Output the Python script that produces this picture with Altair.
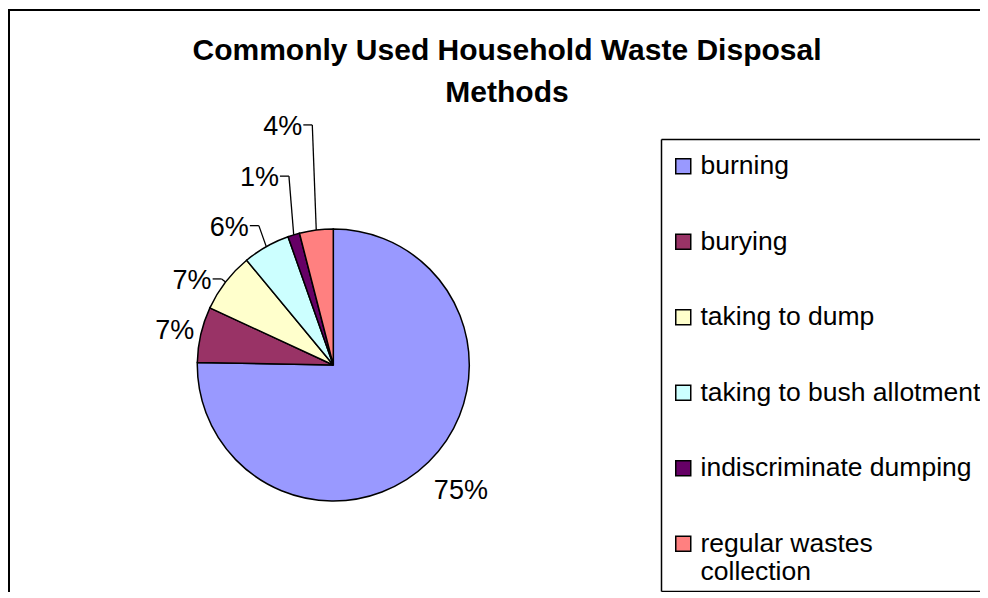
import altair as alt
import pandas as pd

# ---- data ----
methods = [
    "burning",
    "burying",
    "taking to dump",
    "taking to bush allotment",
    "indiscriminate dumping",
    "regular wastes collection",
]
shares = [75.3, 6.6, 7.1, 5.6, 1.4, 4.0]
colors = ["#9999FF", "#993366", "#FFFFCC", "#CCFFFF", "#660066", "#FF8080"]
title_lines = ["Commonly Used Household Waste Disposal", "Methods"]

# ---- label placement (like hand-dragged spreadsheet labels) ----
label_radius = [179, 162, 141, 158, 194, 241]
label_shift_deg = [-1.0, -1.0, 0.0, 1.4, 3.7, 2.2]
label_leader = [0, 0, 1, 1, 1, 1]

W, H = 972, 584
CX, CY, R = 325.3, 357, 136
FONT = "Liberation Sans"

df = pd.DataFrame({
    "method": methods,
    "share": shares,
    "order": list(range(len(methods))),
    "lr": label_radius,
    "shift": label_shift_deg,
    "leader": label_leader,
})

one = pd.DataFrame({"k": [0]})

color = alt.Color(
    "method:N",
    scale=alt.Scale(domain=methods, range=colors),
    legend=alt.Legend(
        title=None,
        orient="none",
        legendX=662,
        legendY=145,
        direction="vertical",
        symbolType="square",
        symbolSize=225,
        symbolStrokeColor="black",
        symbolStrokeWidth=1.5,
        symbolOpacity=1,
        labelFont=FONT,
        labelFontSize=26.5,
        labelColor="black",
        labelOffset=4,
        rowPadding=48.5,
        padding=0,
        labelLimit=400,
        labelExpr="datum.label == 'regular wastes collection' ? ['regular wastes', 'collection'] : datum.label",
    ),
)

pie = alt.Chart(df).mark_arc(radius=R, stroke="black", strokeWidth=1.5).encode(
    theta=alt.Theta("share:Q", stack=True),
    order=alt.Order("order:Q"),
    color=color,
    x=alt.value(CX),
    y=alt.value(CY),
)

geo = (
    alt.Chart(df)
    .transform_joinaggregate(total="sum(share)")
    .transform_window(cum="sum(share)", sort=[alt.SortField("order")], frame=[None, 0])
    .transform_calculate(a="2*PI*(datum.cum - datum.share/2)/datum.total")
    .transform_calculate(b="datum.a + datum.shift*PI/180")
    .transform_calculate(ex=f"{CX} + {R}*sin(datum.a)")
    .transform_calculate(ey=f"{CY} - {R}*cos(datum.a)")
    .transform_calculate(lx=f"{CX} + datum.lr*sin(datum.b)")
    .transform_calculate(ly=f"{CY} - datum.lr*cos(datum.b)")
    .transform_calculate(hx="datum.lx - 9")
    .transform_calculate(pct="format(datum.share/datum.total, '.0%')")
)

radial = geo.transform_filter("datum.leader == 1").mark_rule(color="black", strokeWidth=1.3).encode(
    x=alt.X("ex:Q", scale=None), y=alt.Y("ey:Q", scale=None), x2="lx:Q", y2="ly:Q"
)
horiz = geo.transform_filter("datum.leader == 1").mark_rule(color="black", strokeWidth=1.3).encode(
    x=alt.X("hx:Q", scale=None), x2="lx:Q", y=alt.Y("ly:Q", scale=None)
)
txt_center = geo.transform_filter("datum.leader == 0").mark_text(
    font=FONT, fontSize=27, color="black", align="center", baseline="middle"
).encode(x=alt.X("lx:Q", scale=None), y=alt.Y("ly:Q", scale=None), text="pct:N")
txt_leader = geo.transform_filter("datum.leader == 1").mark_text(
    font=FONT, fontSize=27, color="black", align="right", baseline="middle", dx=-10, dy=2
).encode(x=alt.X("lx:Q", scale=None), y=alt.Y("ly:Q", scale=None), text="pct:N")

title = alt.Chart(one).mark_text(
    text=title_lines, font=FONT, fontSize=30, fontWeight="bold", color="black",
    align="center", baseline="alphabetic", lineHeight=42,
).encode(x=alt.value(499), y=alt.value(52))

def rule(**enc):
    return alt.Chart(one).mark_rule(color="black", strokeWidth=enc.pop("sw", 2)).encode(**{k: alt.value(v) for k, v in enc.items()})

frame = [
    rule(x=1, y=2, y2=H),
    rule(x=0, x2=W, y=2),
    rule(x=653.5, y=131.5, y2=583.5, sw=1.5),
    rule(x=653.5, x2=W, y=131.5, sw=1.5),
    rule(x=653.5, x2=W, y=583.5, sw=1.5),
]

chart = alt.layer(
    *frame, title, pie, radial, horiz, txt_center, txt_leader
).properties(
    width=W, height=H, padding=0,
    autosize=alt.AutoSizeParams(type="none"),
    background="white",
).configure_view(stroke=None)

chart.save("out.html", embed_options={"renderer": "svg", "actions": False})
